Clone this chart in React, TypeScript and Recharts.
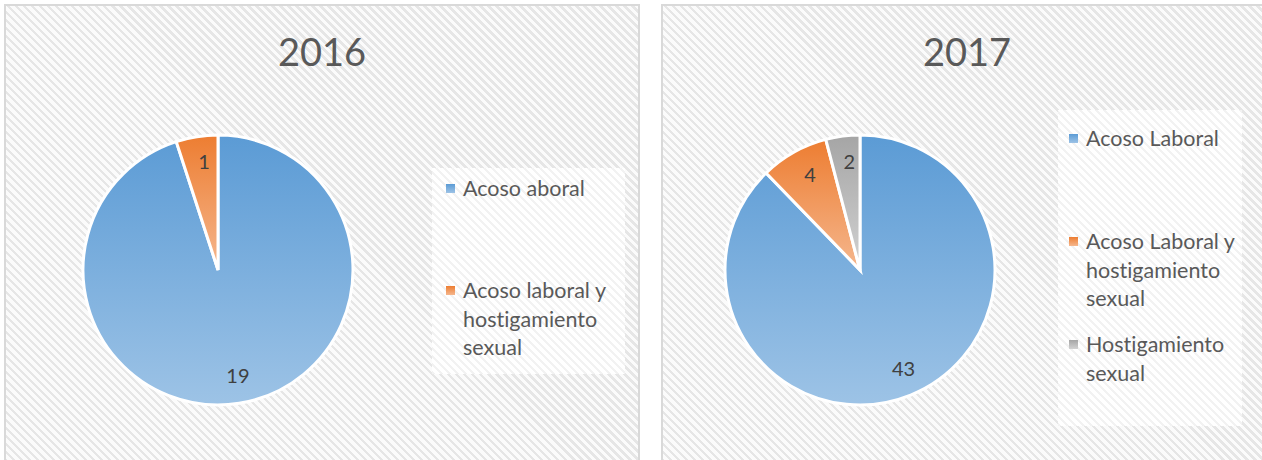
import React from "react";
import { PieChart, Pie, Cell, Legend } from "recharts";

const names2016 = ["Acoso aboral", "Acoso laboral y hostigamiento sexual"];
const values2016 = [19, 1];
const names2017 = ["Acoso Laboral", "Acoso Laboral y hostigamiento sexual", "Hostigamiento sexual"];
const values2017 = [43, 4, 2];
const legendLines2016 = [["Acoso aboral"], ["Acoso laboral y", "hostigamiento", "sexual"]];
const legendLines2017 = [["Acoso Laboral"], ["Acoso Laboral y", "hostigamiento", "sexual"], ["Hostigamiento", "sexual"]];
const titles = ["2016", "2017"];

const topColors = ["#5b9bd5", "#ed7d31", "#a5a5a5"];
const bottomColors = ["#9dc3e6", "#f5b78e", "#d2d2d2"];

const FONT = "Lato, 'Open Sans', sans-serif";
const RAD = Math.PI / 180;

const hatch = "repeating-linear-gradient(45deg, #e6e6e6 0px, #e6e6e6 2.6px, #fbfbfb 2.6px, #fbfbfb 5.66px)";
const hatchLight = "repeating-linear-gradient(45deg, #f2f2f2 0px, #f2f2f2 2.6px, #ffffff 2.6px, #ffffff 5.66px)";

const renderLabel = (props: any) => {
  const { cx, cy, midAngle, outerRadius, value } = props;
  const r = outerRadius * 0.8;
  const x = cx + r * Math.cos(-midAngle * RAD);
  const y = cy + r * Math.sin(-midAngle * RAD);
  return (
    <text x={x + 3} y={y - 2} fill="#404040" fontSize={20} fontFamily={FONT} textAnchor="middle" dominantBaseline="central">
      {value}
    </text>
  );
};

function makeLegend(lines: string[][], itemTops: number[]) {
  return () => (
    <div style={{ position: "relative", width: 200, height: 320 }}>
      {lines.map((ls, i) => (
        <div key={i} style={{ position: "absolute", left: 0, top: itemTops[i], display: "flex", alignItems: "flex-start" }}>
          <div style={{ width: 9, height: 9, marginTop: 10, marginRight: 8, background: `linear-gradient(${topColors[i]}, ${bottomColors[i]})` }} />
          <div style={{ fontFamily: FONT, fontSize: 21.5, lineHeight: "28.5px", color: "#595959", whiteSpace: "nowrap", fontVariantLigatures: "none" }}>
            {ls.map((l, j) => (
              <div key={j}>{l}</div>
            ))}
          </div>
        </div>
      ))}
    </div>
  );
}

function Panel(props: {
  left: number; width: number; title: string; names: string[]; values: number[];
  cx: number; legendBox: [number, number, number, number]; legend: () => React.ReactNode;
  legendLeft: number; legendTop: number; id: string;
}) {
  const { left, width, title, names, values, cx, legendBox, legend, legendLeft, legendTop, id } = props;
  const data = names.map((n, i) => ({ name: n, value: values[i] }));
  return (
    <div style={{ position: "absolute", left, top: 4, width, height: 480 }}>
      <div style={{ position: "absolute", left: 0, top: 0, width: width - 4, height: 480, border: "2px solid #d9d9d9", background: hatch }} />
      <div style={{ position: "absolute", left: legendBox[0] - left, top: legendBox[1] - 4, width: legendBox[2], height: legendBox[3], background: hatchLight }} />
      <div style={{ position: "absolute", left: 0, top: 24, width: width, textAlign: "center", fontFamily: FONT, fontSize: 38, color: "#595959" }}>
        {title}
      </div>
      <div style={{ position: "absolute", left: 0, top: 0 }}>
        <PieChart width={width} height={460} margin={{ top: 0, right: 0, bottom: 0, left: 0 }}>
          <defs>
            {values.map((_, i) => (
              <linearGradient key={i} id={`${id}g${i}`} x1="0" y1="0" x2="0" y2="1">
                <stop offset="0%" stopColor={topColors[i]} />
                <stop offset="100%" stopColor={bottomColors[i]} />
              </linearGradient>
            ))}
          </defs>
          <Pie
            data={data}
            dataKey="value"
            nameKey="name"
            cx={cx}
            cy={266}
            outerRadius={135}
            startAngle={90}
            endAngle={-270}
            stroke="#ffffff"
            strokeWidth={3}
            label={renderLabel}
            labelLine={false}
            isAnimationActive={false}
          >
            {data.map((_, i) => (
              <Cell key={i} fill={`url(#${id}g${i})`} />
            ))}
          </Pie>
          <Legend
            layout="vertical"
            content={legend}
            wrapperStyle={{ position: "absolute", left: legendLeft, top: legendTop, width: 200 }}
          />
        </PieChart>
      </div>
    </div>
  );
}

export default function App() {
  return (
    <div style={{ position: "absolute", left: 0, top: 0, width: 1262, height: 460, overflow: "hidden", background: "#ffffff" }}>
      <Panel
        id="p1"
        left={4}
        width={636}
        title={titles[0]}
        names={names2016}
        values={values2016}
        cx={214}
        legendBox={[432, 168, 193, 206]}
        legend={makeLegend(legendLines2016, [0, 102])}
        legendLeft={442}
        legendTop={170}
      />
      <Panel
        id="p2"
        left={661}
        width={612}
        title={titles[1]}
        names={names2017}
        values={values2017}
        cx={199}
        legendBox={[1058, 110, 184, 316]}
        legend={makeLegend(legendLines2017, [0, 103, 206])}
        legendLeft={408}
        legendTop={120}
      />
    </div>
  );
}
